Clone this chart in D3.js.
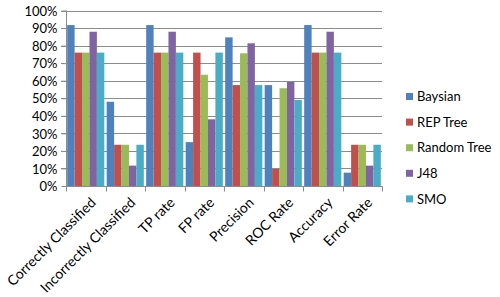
<!DOCTYPE html>
<html>
<head>
<meta charset="utf-8">
<script src="https://cdn.jsdelivr.net/npm/d3@7"></script>
<style>
body { margin: 0; background: #fff; }
text { font-family: Lato, "Open Sans", sans-serif; fill: #000; }
</style>
</head>
<body>
<svg id="chart" width="500" height="297"></svg>
<script>
// categories, series and values
var categories = ["Correctly Classified", "Incorrectly Classified", "TP rate", "FP rate",
                  "Precision", "ROC Rate", "Accuracy", "Error Rate"];
var seriesNames = ["Baysian", "REP Tree", "Random Tree", "J48", "SMO"];
var colors = ["#4F81BD", "#C0504D", "#9BBB59", "#8064A2", "#4BACC6"];

var baysian    = [0.917, 0.48,  0.917, 0.25,  0.847, 0.575, 0.917, 0.076];
var repTree    = [0.76,  0.235, 0.76,  0.76,  0.575, 0.097, 0.76,  0.235];
var randomTree = [0.76,  0.235, 0.76,  0.634, 0.756, 0.557, 0.76,  0.235];
var j48        = [0.879, 0.116, 0.879, 0.38,  0.813, 0.593, 0.879, 0.116];
var smo        = [0.76,  0.235, 0.76,  0.76,  0.575, 0.49,  0.76,  0.235];
var yTicks = [0, 0.1, 0.2, 0.3, 0.4, 0.5, 0.6, 0.7, 0.8, 0.9, 1.0];

var allSeries = [baysian, repTree, randomTree, j48, smo];

var svg = d3.select("#chart");
var plotLeft = 66, plotRight = 382, plotTop = 10.5, plotBottom = 186;

var x = d3.scaleBand().domain(categories).range([plotLeft, plotRight]).paddingInner(0).paddingOuter(0);
var xs = d3.scaleBand().domain(seriesNames).range([0, x.bandwidth()]).paddingInner(0).paddingOuter(0.16);
var y = d3.scaleLinear().domain([0, 1]).range([plotBottom, plotTop]);

// gridlines
svg.append("g")
  .selectAll("line")
  .data(yTicks.slice(1))
  .enter().append("line")
  .attr("x1", plotLeft - 5).attr("x2", plotRight)
  .attr("y1", d => Math.round(y(d)) + 0.5).attr("y2", d => Math.round(y(d)) + 0.5)
  .attr("stroke", "#8c8c8c").attr("stroke-width", 1);

// bars
var groups = svg.append("g").selectAll("g")
  .data(categories)
  .enter().append("g")
  .attr("transform", d => "translate(" + x(d) + ",0)");

groups.selectAll("rect")
  .data((c, i) => allSeries.map((s, k) => ({ name: seriesNames[k], v: s[i], k: k })))
  .enter().append("rect")
  .attr("x", d => xs(d.name))
  .attr("width", xs.bandwidth())
  .attr("y", d => y(d.v))
  .attr("height", d => plotBottom - y(d.v))
  .attr("fill", d => colors[d.k]);

// y axis
var yAxis = svg.append("g")
  .attr("transform", "translate(" + (plotLeft + 0.5) + ",0)")
  .call(d3.axisLeft(y).tickValues(yTicks).tickFormat(d3.format(".0%")).tickSize(5));
yAxis.selectAll("line").attr("stroke", "#8c8c8c");
yAxis.select(".domain").attr("stroke", "#8c8c8c").attr("d", "M0," + plotTop + "V" + plotBottom);
yAxis.selectAll("text").attr("font-size", "13px").attr("x", -9).attr("dy", "0.36em")
  .style("font-family", "Lato, sans-serif");

// x axis
var xAxis = svg.append("g")
  .attr("transform", "translate(0," + (plotBottom + 0.5) + ")");
xAxis.append("line")
  .attr("x1", plotLeft).attr("x2", plotRight + 0.5)
  .attr("stroke", "#8c8c8c");
xAxis.selectAll("line.tick")
  .data(d3.range(categories.length + 1))
  .enter().append("line")
  .attr("class", "tick")
  .attr("x1", i => Math.round(plotLeft + i * x.step()) + 0.5)
  .attr("x2", i => Math.round(plotLeft + i * x.step()) + 0.5)
  .attr("y1", 0).attr("y2", 5)
  .attr("stroke", "#8c8c8c");
xAxis.selectAll("text")
  .data(categories)
  .enter().append("text")
  .attr("transform", d => "translate(" + (x(d) + x.bandwidth() / 2 + 4) + ",10) rotate(-45)")
  .attr("text-anchor", "end")
  .attr("dy", "0.7em")
  .attr("font-size", "14px")
  .text(d => d);

// legend
var legend = svg.append("g").selectAll("g")
  .data(seriesNames)
  .enter().append("g")
  .attr("transform", (d, i) => "translate(406," + (96.5 + i * 25.6) + ")");
legend.append("rect")
  .attr("x", 0).attr("y", -3.5).attr("width", 7).attr("height", 7)
  .attr("fill", (d, i) => colors[i]);
legend.append("text")
  .attr("x", 11).attr("dy", "0.36em")
  .attr("font-size", "13px")
  .text(d => d);
</script>
</body>
</html>
